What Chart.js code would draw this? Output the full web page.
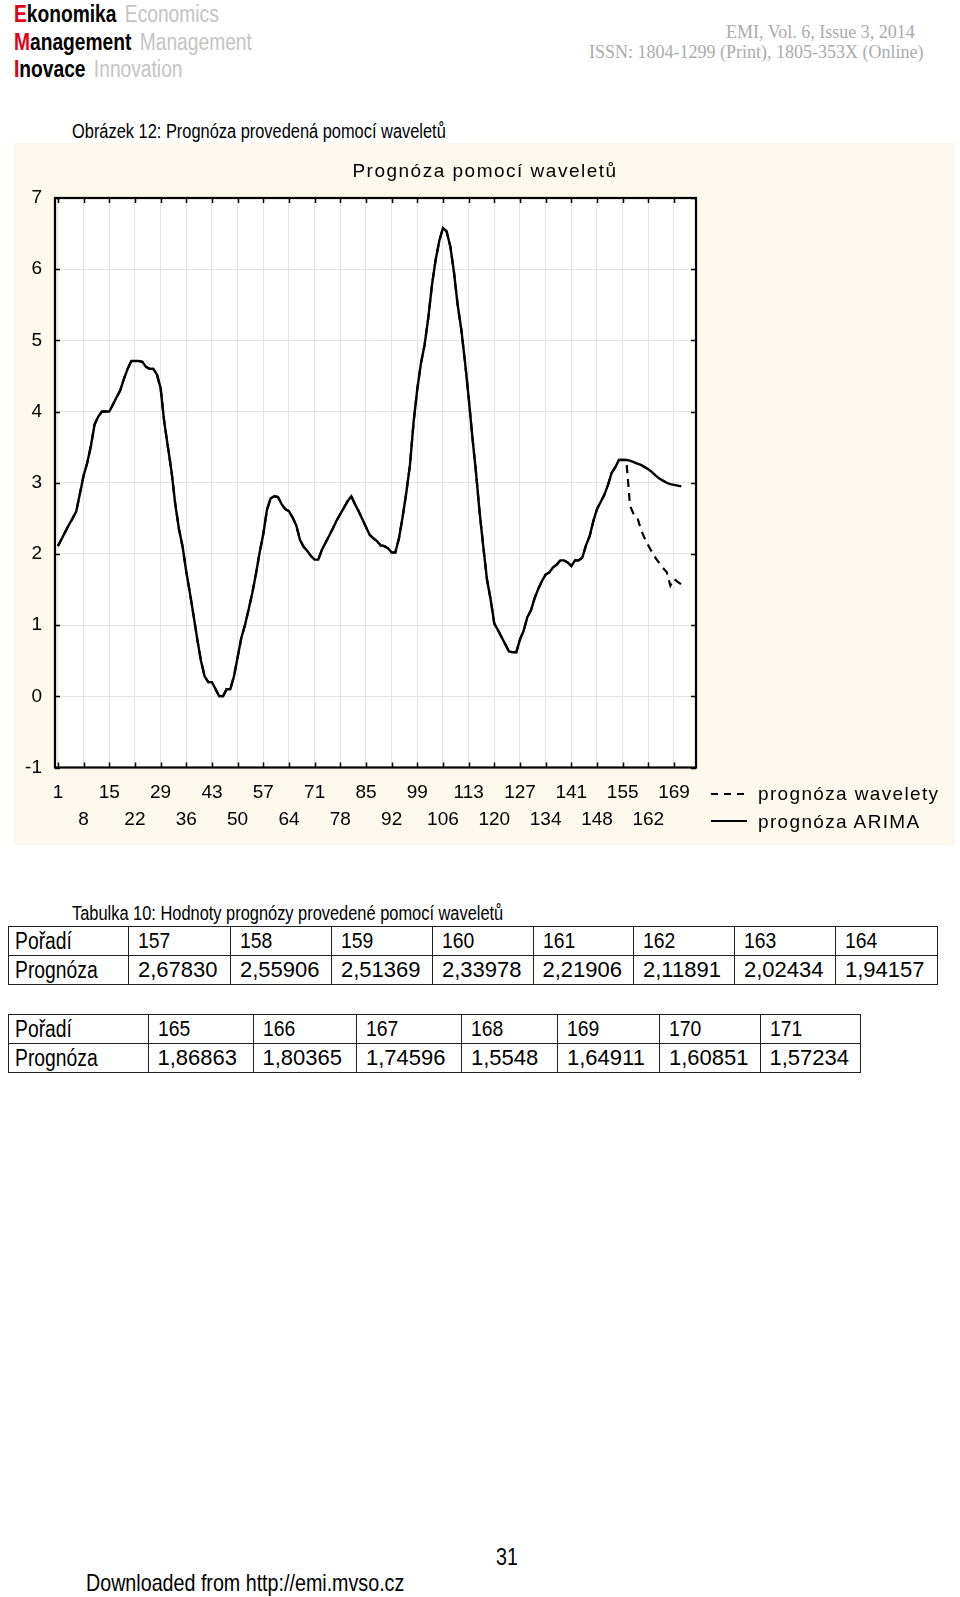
<!DOCTYPE html>
<html>
<head>
<meta charset="utf-8">
<script src="https://cdn.jsdelivr.net/npm/chart.js@4.4.0/dist/chart.umd.min.js"></script>
<style>
  body { margin: 0; width: 960px; height: 1597px; position: relative; background: #fff; overflow: hidden;
         font-family: "Liberation Sans", Arial, sans-serif; color: #000; }
  .abs { position: absolute; white-space: nowrap; line-height: 1; }
  /* no narrow font installed, so squeeze the regular one */
  .nar { transform: scaleX(0.82); transform-origin: 0 0; }
  .sx { display: inline-block; transform: scaleX(0.84); transform-origin: 0 50%; }
  .logo { font-size: 23px; left: 14px; transform: scaleX(0.835); transform-origin: 0 0; }
  .logo b { font-weight: bold; color: #000; }
  .logo b span { color: #e3001b; }
  .logo i { font-style: normal; color: #c4c4c4; margin-left: 10px; }
  .serif { font-family: "Liberation Serif", "Times New Roman", serif; font-size: 18px; color: #ababab; }
  #panel { position: absolute; left: 14px; top: 143px; width: 941px; height: 702px; background: #fcf8ec; }
  #panel canvas { position: absolute; left: 0; top: 0; }
  .lg { font-size: 19px; letter-spacing: 1.35px; }
  table { position: absolute; border-collapse: collapse; table-layout: fixed; }
  td { border: 1.5px solid #222; height: 28px; padding: 0 0 0 9px; vertical-align: middle; white-space: nowrap; }
  td.h { font-size: 23px; padding-left: 6px; }
  td.n { font-size: 22px; }
  td.n .sx { transform: scaleX(0.88); }
  td.v { font-size: 22px; }
</style>
</head>
<body>

<div class="abs logo" style="top:3px"><b><span>E</span>konomika</b><i>Economics</i></div>
<div class="abs logo" style="top:30.5px"><b><span>M</span>anagement</b><i>Management</i></div>
<div class="abs logo" style="top:58px"><b><span>I</span>novace</b><i>Innovation</i></div>

<div class="abs serif" style="left:726px; top:22.5px">EMI, Vol. 6, Issue 3, 2014</div>
<div class="abs serif" style="left:589px; top:43px">ISSN: 1804-1299 (Print), 1805-353X (Online)</div>

<div class="abs nar" style="left:72px; top:121px; font-size:20px">Obrázek 12: Prognóza provedená pomocí waveletů</div>

<div id="panel">
  <canvas id="chart" width="941" height="702"></canvas>
  <div class="abs" style="left:471px; top:18px; transform:translateX(-50%); font-size:19px; letter-spacing:1.5px">Prognóza pomocí waveletů</div>
</div>

<!-- legend -->
<svg class="abs" style="left:711px; top:789px" width="38" height="10"><line x1="0" y1="5" x2="38" y2="5" stroke="#000" stroke-width="2" stroke-dasharray="7 6"/></svg>
<div class="abs lg" style="left:758px; top:784px">prognóza wavelety</div>
<svg class="abs" style="left:711px; top:816px" width="38" height="10"><line x1="0" y1="5" x2="36" y2="5" stroke="#000" stroke-width="2"/></svg>
<div class="abs lg" style="left:758px; top:811.5px">prognóza ARIMA</div>

<div class="abs nar" style="left:72px; top:903px; font-size:20px">Tabulka 10: Hodnoty prognózy provedené pomocí waveletů</div>
<div id="tables"></div>

<div class="abs nar" style="left:496px; top:1545px; font-size:24px">31</div>
<div class="abs nar" style="left:86px; top:1571px; font-size:24px">Downloaded from http://emi.mvso.cz</div>

<script>
// ARIMA / wavelet history, observations 1..156 (both forecasts share it)
const history = [
  2.11, 2.21, 2.31, 2.41, 2.50, 2.60, 2.85, 3.10, 3.28, 3.52,
  3.82, 3.93, 4.00, 4.00, 4.00, 4.10, 4.20, 4.30, 4.46, 4.60,
  4.71, 4.71, 4.71, 4.70, 4.63, 4.60, 4.60, 4.52, 4.33, 3.85,
  3.50, 3.15, 2.70, 2.35, 2.10, 1.75, 1.45, 1.13, 0.80, 0.50,
  0.28, 0.20, 0.20, 0.10, 0.00, 0.00, 0.10, 0.10, 0.28, 0.55,
  0.82, 1.00, 1.22, 1.45, 1.72, 2.02, 2.28, 2.62, 2.78, 2.81,
  2.80, 2.70, 2.63, 2.60, 2.51, 2.40, 2.20, 2.10, 2.04, 1.97,
  1.92, 1.92, 2.06, 2.16, 2.26, 2.36, 2.47, 2.56, 2.65, 2.74,
  2.81, 2.70, 2.60, 2.49, 2.38, 2.27, 2.22, 2.18, 2.12, 2.11,
  2.08, 2.02, 2.02, 2.22, 2.52, 2.86, 3.25, 3.86, 4.32, 4.68,
  4.94, 5.32, 5.78, 6.13, 6.40, 6.58, 6.53, 6.32, 5.96, 5.50,
  5.15, 4.70, 4.20, 3.65, 3.15, 2.58, 2.10, 1.64, 1.36, 1.02,
  0.93, 0.83, 0.73, 0.63, 0.62, 0.62, 0.80, 0.92, 1.11, 1.21,
  1.38, 1.51, 1.62, 1.71, 1.74, 1.81, 1.85, 1.91, 1.91, 1.88,
  1.83, 1.91, 1.91, 1.95, 2.12, 2.25, 2.46, 2.63, 2.73, 2.83,
  2.97, 3.14, 3.22, 3.32, 3.32, 3.32
];

// forecasts for 157..171
const arimaForecast = [3.31, 3.29, 3.27, 3.25, 3.22, 3.19, 3.15, 3.10, 3.06, 3.03, 3.00, 2.98, 2.97, 2.96, 2.95];
const waveletOrder = [157, 158, 159, 160, 161, 162, 163, 164, 165, 166, 167, 168, 169, 170, 171];
const waveletForecast = [2.67830, 2.55906, 2.51369, 2.33978, 2.21906, 2.11891, 2.02434, 1.94157,
                         1.86863, 1.80365, 1.74596, 1.5548, 1.64911, 1.60851, 1.57234];

const xTickValues = [1, 8, 15, 22, 29, 36, 43, 50, 57, 64, 71, 78, 85, 92, 99, 106, 113, 120, 127, 134, 141, 148, 155, 162, 169];

const seriesNames = ['prognóza wavelety', 'prognóza ARIMA'];

// ---- tables below the chart ----
function fmt(v, digits) {
  return v.toFixed(digits).replace('.', ',');
}
const decimals = [5, 5, 5, 5, 5, 5, 5, 5, 5, 5, 5, 4, 5, 5, 5];

function cell(row, cls, text) {
  const c = row.insertCell();
  c.className = cls;
  if (cls === 'v') {
    c.textContent = text;
  } else {
    const s = document.createElement('span');
    s.className = 'sx';
    s.textContent = text;
    c.appendChild(s);
  }
}

function makeTable(from, to, left, top, widths) {
  const t = document.createElement('table');
  t.style.left = left + 'px';
  t.style.top = top + 'px';
  const cg = document.createElement('colgroup');
  widths.forEach(w => { const c = document.createElement('col'); c.style.width = w + 'px'; cg.appendChild(c); });
  t.appendChild(cg);
  const r1 = t.insertRow(), r2 = t.insertRow();
  cell(r1, 'h', 'Pořadí');
  cell(r2, 'h', 'Prognóza');
  for (let i = from; i < to; i++) {
    cell(r1, 'n', String(waveletOrder[i]));
    cell(r2, 'v', fmt(waveletForecast[i], decimals[i]));
  }
  document.getElementById('tables').appendChild(t);
}
makeTable(0, 8, 8, 926, [120, 102, 101, 101, 100.5, 100.5, 101, 101, 102]);
makeTable(8, 15, 8, 1014, [139.5, 105, 103.5, 105, 96, 102, 100.5, 100.5]);

// ---- chart ----
Chart.defaults.font.family = '"Liberation Sans", Arial, sans-serif';
Chart.defaults.color = '#000';

function toPoints(values) {
  return values.map((v, i) => ({ x: i + 1, y: v }));
}

const framePlugin = {
  id: 'frame',
  beforeDraw(chart) {
    const { ctx, chartArea: a } = chart;
    ctx.save();
    ctx.fillStyle = '#fff';
    ctx.fillRect(a.left, a.top, a.right - a.left, a.bottom - a.top);
    ctx.restore();
  },
  afterDatasetsDraw(chart) {
    const { ctx, chartArea: a, scales } = chart;
    ctx.save();
    ctx.strokeStyle = '#000';
    ctx.lineWidth = 1.5;
    ctx.beginPath();
    scales.x.ticks.forEach(t => {
      const px = Math.round(scales.x.getPixelForValue(t.value)) + 0.5;
      ctx.moveTo(px, a.top); ctx.lineTo(px, a.top + 5);
      ctx.moveTo(px, a.bottom); ctx.lineTo(px, a.bottom - 5);
    });
    scales.y.ticks.forEach(t => {
      const py = Math.round(scales.y.getPixelForValue(t.value)) + 0.5;
      ctx.moveTo(a.left, py); ctx.lineTo(a.left + 5, py);
      ctx.moveTo(a.right, py); ctx.lineTo(a.right - 5, py);
    });
    ctx.stroke();
    ctx.lineWidth = 2.2;
    ctx.strokeRect(a.left, a.top, a.right - a.left, a.bottom - a.top);
    ctx.restore();
  }
};

new Chart(document.getElementById('chart'), {
  type: 'line',
  data: {
    datasets: [
      {
        label: seriesNames[0],
        data: toPoints(history.concat(waveletForecast)),
        borderColor: '#000',
        borderWidth: 2.2,
        borderDash: [8, 6],
        pointRadius: 0,
        fill: false,
        order: 0
      },
      {
        label: seriesNames[1],
        data: toPoints(history.concat(arimaForecast)),
        borderColor: '#000',
        borderWidth: 2.4,
        pointRadius: 0,
        fill: false,
        order: 1
      }
    ]
  },
  options: {
    responsive: false,
    animation: false,
    layout: { padding: { top: 55, right: 259, bottom: 0, left: 0 } },
    plugins: {
      legend: { display: false },
      title: { display: false },
      tooltip: { enabled: false }
    },
    scales: {
      x: {
        type: 'linear',
        min: 0.2,
        max: 175,
        afterBuildTicks: s => { s.ticks = xTickValues.map(v => ({ value: v })); },
        afterFit: s => { s.height = 77.5; },
        ticks: {
          autoSkip: false,
          maxRotation: 0,
          padding: 12,
          font: { size: 19, lineHeight: 1.4 },
          callback: (v, i) => (i % 2 ? ['', String(v)] : String(v))
        },
        grid: { color: '#e4e4e4', drawTicks: false },
        border: { display: false }
      },
      y: {
        min: -1,
        max: 7,
        afterFit: s => { s.width = 41; },
        ticks: { stepSize: 1, padding: 13, font: { size: 19 } },
        grid: { color: '#e4e4e4', drawTicks: false },
        border: { display: false }
      }
    }
  },
  plugins: [framePlugin]
});
</script>
</body>
</html>
